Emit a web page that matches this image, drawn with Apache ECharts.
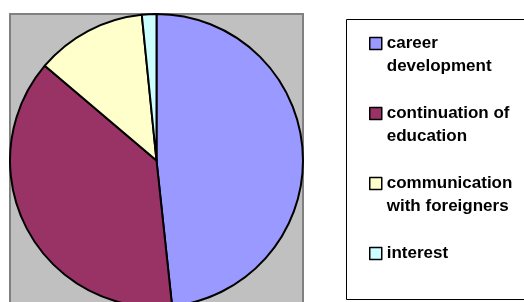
<!DOCTYPE html>
<html>
<head>
<meta charset="utf-8">
<script src="https://cdn.jsdelivr.net/npm/echarts@6/dist/echarts.min.js"></script>
<style>
  html, body { margin: 0; padding: 0; background: #fff; }
  #chart { width: 524px; height: 302px; }
</style>
</head>
<body>
<div id="chart"></div>
<script>
// slice names (with line breaks as in the legend) and shares in %
var categories = ['career\ndevelopment', 'continuation of\neducation', 'communication\nwith foreigners', 'interest'];
var shares = [48.3, 37.9, 12.2, 1.6];
var colors = ['#9999ff', '#993366', '#ffffcc', '#ccffff'];

var chart = echarts.init(document.getElementById('chart'));

var pieData = categories.map(function (name, i) {
  return { name: name, value: shares[i], itemStyle: { color: colors[i] } };
});

// first line of the legend text sits level with the square,
// single-line entries get equal padding so the spacing stays the same
var legendData = categories.map(function (name) {
  var twoLines = name.indexOf('\n') >= 0;
  return { name: name, textStyle: { padding: twoLines ? [23, 0, 0, 0] : [23, 0, 23, 0] } };
});

chart.setOption({
  animation: false,
  graphic: [
    { // grey plot area
      type: 'rect', z: -10,
      shape: { x: 10, y: 14, width: 293, height: 300 },
      style: { fill: '#c0c0c0', stroke: '#808080', lineWidth: 2 }
    },
    { // legend frame
      type: 'rect', z: -10,
      shape: { x: 346.5, y: 19.5, width: 190, height: 280 },
      style: { fill: '#fff', stroke: '#000', lineWidth: 1 }
    }
  ],
  legend: {
    orient: 'vertical',
    left: 369,
    top: 9,
    padding: 0,
    itemGap: 1,
    itemWidth: 12,
    itemHeight: 12,
    icon: 'rect',
    selectedMode: false,
    itemStyle: { borderColor: '#000', borderWidth: 1.5 },
    formatter: function (name) {
      return name.split('\n').map(function (s) { return '{t|' + s + '}'; }).join('\n');
    },
    textStyle: {
      fontFamily: 'Liberation Sans',
      fontWeight: 'bold',
      fontSize: 17,
      lineHeight: 23,
      color: '#000',
      rich: {
        t: {
          fontFamily: 'Liberation Sans',
          fontWeight: 'bold',
          fontSize: 17,
          lineHeight: 23,
          color: '#000'
        }
      }
    },
    data: legendData
  },
  series: [{
    type: 'pie',
    center: [156.5, 160.5],
    radius: 146.5,
    startAngle: 90,
    clockwise: true,
    label: { show: false },
    labelLine: { show: false },
    emphasis: { disabled: true },
    itemStyle: { borderColor: '#000', borderWidth: 2 },
    data: pieData
  }]
});
</script>
</body>
</html>
